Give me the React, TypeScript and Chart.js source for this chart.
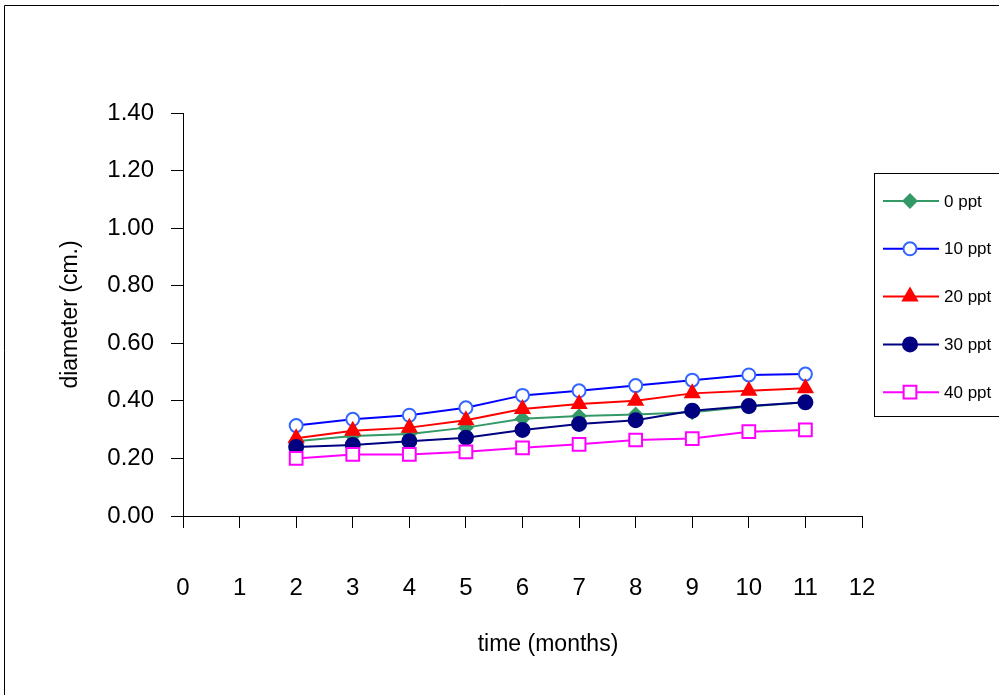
import React, { useEffect, useRef } from 'react';
import { Chart, registerables } from 'chart.js';
import { drawPoint } from 'chart.js/helpers';

Chart.register(...registerables);

// ---- data ----
const months = [2, 3, 4, 5, 6, 7, 8, 9, 10, 11];
const seriesNames = ['0 ppt', '10 ppt', '20 ppt', '30 ppt', '40 ppt'];
const ppt0 = [0.26, 0.278, 0.285, 0.307, 0.338, 0.347, 0.353, 0.36, 0.38, 0.395];
const ppt10 = [0.314, 0.336, 0.35, 0.376, 0.419, 0.435, 0.453, 0.472, 0.49, 0.493];
const ppt20 = [0.27, 0.296, 0.307, 0.333, 0.372, 0.389, 0.4, 0.426, 0.435, 0.444];
const ppt30 = [0.24, 0.247, 0.26, 0.272, 0.299, 0.32, 0.333, 0.366, 0.382, 0.395];
const ppt40 = [0.2, 0.214, 0.214, 0.223, 0.237, 0.249, 0.264, 0.269, 0.293, 0.299];
const xTickValues = [0, 1, 2, 3, 4, 5, 6, 7, 8, 9, 10, 11, 12];
const yTickValues = [0, 0.2, 0.4, 0.6, 0.8, 1.0, 1.2, 1.4];
const xTitle = 'time (months)';
const yTitle = 'diameter (cm.)';

const FONT = '"Liberation Sans", Arial, sans-serif';

const styles = [
  { line: '#339966', fill: '#339966', stroke: '#339966', pointStyle: 'rectRot', radius: 6.5 },
  { line: '#0000FF', fill: '#FFFFFF', stroke: '#3366FF', pointStyle: 'circle', radius: 6.5 },
  { line: '#FF0000', fill: '#FF0000', stroke: '#FF0000', pointStyle: 'triangle', radius: 8 },
  { line: '#000080', fill: '#000080', stroke: '#000080', pointStyle: 'circle', radius: 7 },
  { line: '#FF00FF', fill: '#FFFFFF', stroke: '#FF00FF', pointStyle: 'rect', radius: 9 },
];

const seriesValues = [ppt0, ppt10, ppt20, ppt30, ppt40];

const framePlugin = {
  id: 'frame',
  beforeDraw(chart: any) {
    const ctx = chart.ctx;
    ctx.save();
    ctx.strokeStyle = '#000';
    ctx.lineWidth = 1;
    ctx.beginPath();
    ctx.moveTo(4.5, 700);
    ctx.lineTo(4.5, 5.5);
    ctx.lineTo(1000, 5.5);
    ctx.stroke();
    ctx.restore();
  },
};

const xTitlePlugin = {
  id: 'xTitle',
  afterDraw(chart: any) {
    const ctx = chart.ctx;
    ctx.save();
    ctx.fillStyle = '#000';
    ctx.font = `23px ${FONT}`;
    ctx.textAlign = 'center';
    ctx.textBaseline = 'middle';
    ctx.fillText(xTitle, 548, 645);
    ctx.restore();
  },
};

const legendPlugin = {
  id: 'customLegend',
  afterDraw(chart: any) {
    const ctx = chart.ctx;
    ctx.save();
    ctx.strokeStyle = '#000';
    ctx.lineWidth = 1;
    ctx.strokeRect(874.5, 173.5, 140, 243);
    chart.data.datasets.forEach((ds: any, i: number) => {
      const y = 201 + i * 47.8;
      ctx.strokeStyle = ds.borderColor;
      ctx.lineWidth = 2;
      ctx.beginPath();
      ctx.moveTo(883, y);
      ctx.lineTo(939, y);
      ctx.stroke();
      ctx.fillStyle = ds.pointBackgroundColor;
      ctx.strokeStyle = ds.pointBorderColor;
      ctx.lineWidth = ds.pointBorderWidth;
      drawPoint(ctx, { pointStyle: ds.pointStyle, radius: ds.pointRadius, borderWidth: ds.pointBorderWidth, rotation: 0 } as any, 910, y);
      ctx.fillStyle = '#000';
      ctx.font = `17px ${FONT}`;
      ctx.textBaseline = 'middle';
      ctx.textAlign = 'left';
      ctx.fillText(ds.label, 944, y + 1);
    });
    ctx.restore();
  },
};

export default function App() {
  const ref = useRef<HTMLCanvasElement>(null);
  useEffect(() => {
    if (!ref.current) return;
    const datasets = seriesNames.map((name, i) => ({
      label: name,
      data: months.map((m, j) => ({ x: m, y: seriesValues[i][j] })),
      borderColor: styles[i].line,
      borderWidth: 2,
      pointStyle: styles[i].pointStyle,
      pointRadius: styles[i].radius,
      pointBackgroundColor: styles[i].fill,
      pointBorderColor: styles[i].stroke,
      pointBorderWidth: 2,
      tension: 0,
      fill: false,
      order: 5 - i,
    }));
    const chart = new Chart(ref.current, {
      type: 'line',
      data: { datasets },
      plugins: [framePlugin, legendPlugin, xTitlePlugin],
      options: {
        responsive: false,
        animation: false,
        layout: { padding: { left: 0, right: 137, top: 113, bottom: 0 } },
        plugins: { legend: { display: false }, tooltip: { enabled: false } },
        scales: {
          x: {
            type: 'linear',
            min: 0,
            max: 12,
            afterBuildTicks: (s: any) => { s.ticks = xTickValues.map((v) => ({ value: v })); },
            afterFit: (s: any) => { s.height = 179; },
            grid: { drawOnChartArea: false, drawTicks: true, tickLength: 12, color: '#000', lineWidth: 1 },
            border: { display: true, color: '#000', width: 1 },
            ticks: {
              color: '#000',
              font: { family: FONT, size: 24 },
              padding: 46,
              maxRotation: 0,
              autoSkip: false,
              callback: (v: any) => String(v),
            },
            title: { display: false, text: xTitle },
          },
          y: {
            type: 'linear',
            min: 0,
            max: 1.4,
            afterBuildTicks: (s: any) => { s.ticks = yTickValues.map((v) => ({ value: v })); },
            afterFit: (s: any) => { s.width = 183; },
            grid: { drawOnChartArea: false, drawTicks: true, tickLength: 12, color: '#000', lineWidth: 1 },
            border: { display: true, color: '#000', width: 1 },
            ticks: {
              color: '#000',
              font: { family: FONT, size: 24 },
              padding: 17,
              autoSkip: false,
              callback: (v: any) => Number(v).toFixed(2),
            },
            title: {
              display: true,
              text: yTitle,
              color: '#000',
              font: { family: FONT, size: 23 },
              padding: { top: 57, bottom: 0 },
            },
          },
        },
      },
    } as any);
    return () => chart.destroy();
  }, []);
  return (
    <div style={{ position: 'fixed', left: 0, top: 0, width: 999, height: 695, background: '#fff' }}>
      <canvas ref={ref} width={999} height={695} />
    </div>
  );
}
